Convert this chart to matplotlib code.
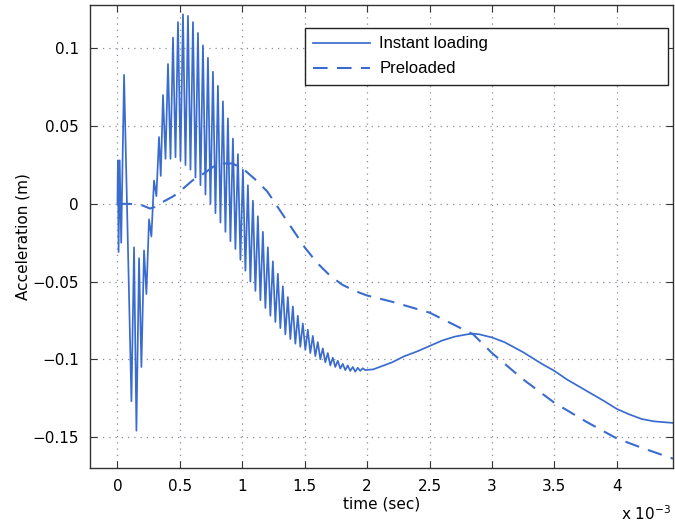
import matplotlib.pyplot as plt

# time in ms (axis shows x 10^-3 sec)
instant_t = [0.000, 0.004, 0.009, 0.018, 0.030, 0.053, 0.112, 0.133, 0.152, 0.173,
             0.192, 0.213, 0.232, 0.253, 0.272, 0.293, 0.312, 0.333, 0.347, 0.365,
             0.385, 0.405, 0.425, 0.445, 0.465, 0.485, 0.505, 0.525, 0.545, 0.565,
             0.585, 0.605, 0.625, 0.645, 0.665, 0.685, 0.705, 0.725, 0.745, 0.765,
             0.785, 0.805, 0.825, 0.845, 0.865, 0.885, 0.905, 0.925, 0.945, 0.965,
             0.985, 1.005, 1.025, 1.045, 1.065, 1.085, 1.105, 1.125, 1.145, 1.165,
             1.185, 1.205, 1.225, 1.245, 1.265, 1.285, 1.305, 1.325, 1.345, 1.365,
             1.385, 1.405, 1.425, 1.445, 1.465, 1.485, 1.505, 1.525, 1.545, 1.565,
             1.585, 1.605, 1.625, 1.645, 1.665, 1.685, 1.705, 1.725, 1.745, 1.765,
             1.785, 1.805, 1.825, 1.845, 1.865, 1.885, 1.905, 1.925, 1.945, 1.965,
             1.985, 2.05, 2.1, 2.2, 2.3, 2.4, 2.5, 2.6, 2.7, 2.8,
             2.85, 2.9, 3.0, 3.1, 3.25, 3.4, 3.5, 3.6, 3.75, 3.9,
             4.0, 4.1, 4.2, 4.3, 4.45]
instant_v = [0.000, 0.028, -0.031, 0.028, -0.025, 0.083, -0.127, -0.028, -0.146, -0.035,
             -0.105, -0.030, -0.058, -0.010, -0.021, 0.015, 0.005, 0.043, 0.018, 0.070,
             0.029, 0.090, 0.029, 0.107, 0.030, 0.117, 0.028, 0.122, 0.025, 0.121,
             0.022, 0.117, 0.017, 0.110, 0.012, 0.102, 0.006, 0.094, 0.000, 0.085,
             -0.006, 0.076, -0.012, 0.066, -0.018, 0.055, -0.024, 0.042, -0.029, 0.032,
             -0.036, 0.022, -0.043, 0.012, -0.050, 0.002, -0.056, -0.008, -0.062, -0.018,
             -0.067, -0.028, -0.072, -0.037, -0.076, -0.045, -0.080, -0.053, -0.084, -0.060,
             -0.087, -0.066, -0.090, -0.072, -0.092, -0.077, -0.094, -0.081, -0.096, -0.085,
             -0.098, -0.089, -0.100, -0.093, -0.102, -0.096, -0.104, -0.099, -0.105, -0.101,
             -0.106, -0.103, -0.107, -0.104, -0.1075, -0.105, -0.108, -0.1055, -0.1075, -0.1058,
             -0.107, -0.1065, -0.105, -0.102, -0.098, -0.095, -0.0915, -0.088, -0.0855, -0.084,
             -0.0835, -0.084, -0.086, -0.089, -0.0955, -0.103, -0.1075, -0.113, -0.120, -0.127,
             -0.132, -0.1355, -0.1385, -0.140, -0.141]

preload_t = [0, 0.1, 0.2, 0.26, 0.3, 0.37, 0.45, 0.5, 0.6, 0.7, 0.77, 0.85, 0.92, 1.0,
             1.1, 1.2, 1.3, 1.4, 1.5, 1.6, 1.7, 1.8, 1.9, 2.0, 2.2, 2.5, 2.85, 3.0,
             3.25, 3.5, 3.75, 4.0, 4.2, 4.45]
preload_v = [0, 0, -0.001, -0.003, -0.002, 0.0015, 0.005, 0.008, 0.015, 0.020, 0.024,
             0.026, 0.026, 0.023, 0.016, 0.008, -0.004, -0.016, -0.028, -0.038, -0.046,
             -0.052, -0.056, -0.059, -0.063, -0.070, -0.084, -0.096, -0.113, -0.128,
             -0.140, -0.151, -0.157, -0.164]

x_ticks = [0, 0.5, 1, 1.5, 2, 2.5, 3, 3.5, 4]
y_ticks = [-0.15, -0.1, -0.05, 0, 0.05, 0.1]
y_labels = ['\u22120.15', '\u22120.1', '\u22120.05', '0', '0.05', '0.1']

blue = '#3a6ccf'

fig = plt.figure(figsize=(6.75, 5.26), dpi=100)
ax = fig.add_axes([0.1333, 0.1103, 0.8637, 0.8802])

ax.plot(instant_t, instant_v, color=blue, lw=1.25, label='Instant loading')
ax.plot(preload_t, preload_v, color=blue, lw=1.5, ls=(0, (7, 4.5)), label='Preloaded')

ax.set_xlim(-0.22, 4.45)
ax.set_ylim(-0.17, 0.128)
ax.set_xticks(x_ticks)
ax.set_xticklabels([f'{v:g}' for v in x_ticks])
ax.set_yticks(y_ticks)
ax.set_yticklabels(y_labels)
ax.tick_params(direction='in', length=5, top=True, right=True, labelsize=11,
               color='#333333', pad=8)
ax.grid(True, ls=(0, (1, 4)), color='#8a8f99', lw=0.9)
for s in ax.spines.values():
    s.set_color('#333333')
    s.set_linewidth(1.0)

ax.set_xlabel('time (sec)', fontsize=11, labelpad=2)
ax.set_ylabel('Acceleration (m)', fontsize=11, labelpad=1)
fig.text(0.92, 0.012, 'x 10$^{-3}$', fontsize=11)

leg = ax.legend(loc='upper left', bbox_to_anchor=(0.369, 0.827, 0.622, 0.123),
                mode='expand', borderaxespad=0,
                prop={'family': 'Liberation Sans', 'size': 12},
                fancybox=False, framealpha=1, edgecolor='#222222',
                handlelength=3.4, handletextpad=0.55, borderpad=0.5,
                labelspacing=0.6)
leg.get_frame().set_linewidth(1.0)

plt.savefig('out.png', dpi=100)
